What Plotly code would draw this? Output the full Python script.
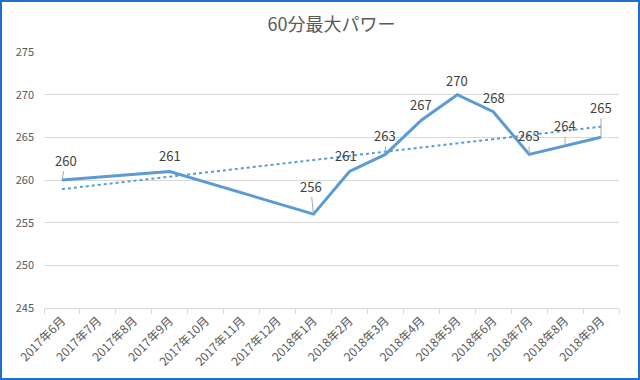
import numpy as np
import plotly.graph_objects as go

title = "60分最大パワー"
months = ["2017年6月", "2017年7月", "2017年8月", "2017年9月", "2017年10月", "2017年11月",
          "2017年12月", "2018年1月", "2018年2月", "2018年3月", "2018年4月", "2018年5月",
          "2018年6月", "2018年7月", "2018年8月", "2018年9月"]
power = [260, None, None, 261, None, None, None, 256, 261, 263, 267, 270, 268, 263, 264, 265]
y_ticks = [245, 250, 255, 260, 265, 270, 275]

# label placement (pixel offsets from point, leader line flag)
label_style = {
    0: (4, -20, True), 3: (0, -16, False), 7: (-3, -28, True), 8: (-3, -16, False),
    9: (0, -19, True), 10: (0, -16, False), 11: (0, -14, False), 12: (1, -14, False),
    13: (0, -19, True), 14: (0, -20, True), 15: (0, -30, True),
}

W, H = 640, 380
L, R, T, B = 44, 21, 52, 72
pw, ph = W - L - R, H - T - B

idx = [i for i, v in enumerate(power) if v is not None]
vals = [power[i] for i in idx]
slope, icpt = np.polyfit(np.array(idx) + 1, vals, 1)
trend = [icpt + slope * (i + 1) for i in range(len(months))]

FONT = "Noto Sans CJK JP, Noto Sans, sans-serif"

fig = go.Figure()
fig.add_trace(go.Scatter(x=months, y=power, mode="lines", connectgaps=True,
                         line=dict(color="#5B9BD5", width=3), hoverinfo="skip"))
fig.add_trace(go.Scatter(x=months, y=trend, mode="lines",
                         line=dict(color="#5B9BD5", width=2, dash="dot"), hoverinfo="skip"))

ann = []
for i, v in enumerate(power):
    if v is None:
        continue
    dx, dy, leader = label_style[i]
    ann.append(dict(x=months[i], y=v, text=str(v), showarrow=True, ax=dx, ay=dy,
                    arrowhead=0, arrowwidth=1, standoff=0,
                    arrowcolor="#A6A6A6" if leader else "rgba(0,0,0,0)",
                    font=dict(size=13, color="#404040", family=FONT)))

fig.update_layout(
    width=W, height=H,
    margin=dict(l=L, r=R, t=T, b=B, autoexpand=False),
    paper_bgcolor="white", plot_bgcolor="white",
    showlegend=False,
    font=dict(family=FONT, color="#595959"),
    title=dict(text=title, x=0.5, xanchor="center", xref="paper",
               y=1 - 25 / H, yanchor="middle",
               font=dict(size=18, color="#595959", family=FONT)),
    annotations=ann,
    xaxis=dict(type="category", categoryorder="array", categoryarray=months,
               range=[-0.5, len(months) - 0.5], tickangle=-45, automargin=False,
               showgrid=False, showline=True, linecolor="#D9D9D9", linewidth=1,
               ticks="outside", tickson="boundaries", ticklen=5, tickcolor="#D9D9D9",
               tickfont=dict(size=12, color="#595959")),
    yaxis=dict(range=[245, 275], tickvals=y_ticks, showgrid=True, gridcolor="#D9D9D9",
               gridwidth=1, zeroline=False, showline=False, ticks="", automargin=False,
               ticklabelstandoff=9, tickfont=dict(size=11, color="#595959")),
    shapes=[dict(type="rect", xref="paper", yref="paper",
                 x0=-(L - 1) / pw, x1=(W - L - 1) / pw,
                 y0=-(B - 1) / ph, y1=(H - B - 1) / ph,
                 line=dict(color="#1F6FCC", width=2), fillcolor="rgba(0,0,0,0)",
                 layer="above")],
)

fig.write_html("out.html", config={"displayModeBar": False},
               post_script="document.body.style.margin='0';")
